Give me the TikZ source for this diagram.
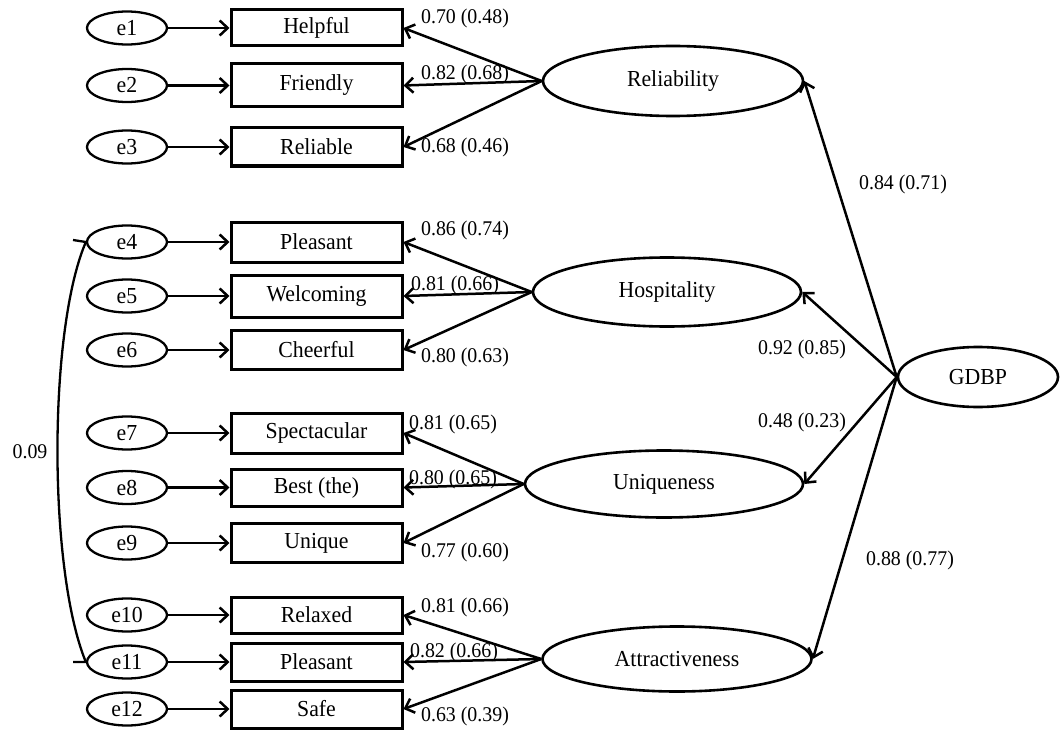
\documentclass[tikz,border=0pt]{standalone}
\usepackage{fontspec}
\setmainfont{Liberation Serif}[FakeStretch=0.95]
\usetikzlibrary{shapes.geometric,arrows.meta}

\newcommand{\nodefont}{\fontsize{23}{25}\selectfont}
\newcommand{\coeffont}{\fontsize{21}{23}\selectfont}

\tikzset{
  errvar/.style={ellipse, draw, line width=2.3bp, minimum width=80bp,
    minimum height=33bp, inner sep=0pt, font=\nodefont},
  indicator/.style={rectangle, draw, line width=3bp, minimum width=171bp,
    minimum height=38bp, inner sep=0pt, font=\nodefont},
  latent/.style={ellipse, draw, line width=2.6bp, inner sep=0pt, font=\nodefont},
  loading/.style={line width=2.5bp, -{Straight Barb[length=8bp,width=15bp]}},
  coef/.style={inner sep=0pt, font=\coeffont},
}

\begin{document}
\begin{tikzpicture}[x=1bp, y=-1bp]
\useasboundingbox (0,0) rectangle (1061,731);

% error terms and indicators
\foreach \i/\y/\txt/\h in {1/28/Helpful/36, 2/85.5/Friendly/43, 3/147/Reliable/38,
    4/242/Pleasant/40, 5/296/Welcoming/42, 6/350/Cheerful/39,
    7/433/Spectacular/40, 8/487.5/Best (the)/37, 9/543/Unique/39,
    10/615/Relaxed/36, 11/662/Pleasant/38, 12/709/Safe/38} {
  \node[errvar] (e\i) at (127,\y) {e\i};
  \node[indicator, minimum height=\h bp] (b\i) at (316.5,\y) {\txt};
  \draw[loading] (e\i.east) -- (b\i.west);
}

% first-order factors
\node[latent, minimum width=260bp, minimum height=70bp] (rel)  at (673,81)  {Reliability};
\node[latent, minimum width=268bp, minimum height=69bp] (hosp) at (667,292) {Hospitality};
\node[latent, minimum width=278bp, minimum height=67bp] (uniq) at (664,484) {Uniqueness};
\node[latent, minimum width=269bp, minimum height=65bp] (attr) at (677,659) {Attractiveness};

% second-order factor
\node[latent, minimum width=160bp, minimum height=60bp] (gdbp) at (978,377) {GDBP};

% factor loadings
\foreach \f/\a/\b/\c in {rel/1/2/3, hosp/4/5/6, uniq/7/8/9, attr/10/11/12} {
  \draw[loading] (\f.west) -- (b\a.east);
  \draw[loading] (\f.west) -- (b\b.east);
  \draw[loading] (\f.west) -- (b\c.east);
}
\foreach \f in {rel, hosp, uniq, attr}
  \draw[loading] (gdbp.west) -- (\f.east);

% standardized loadings (squared multiple correlations)
\node[coef] (l1)  at (465,18.5) {0.70 (0.48)};
\node[coef] (l2)  at (465,74)   {0.82 (0.68)};
\node[coef] (l3)  at (465,147)  {0.68 (0.46)};
\node[coef] (l4)  at (465,230)  {0.86 (0.74)};
\node[coef] (l5)  at (455,285)  {0.81 (0.66)};
\node[coef] (l6)  at (465,357)  {0.80 (0.63)};
\node[coef] (l7)  at (453,424)  {0.81 (0.65)};
\node[coef] (l8)  at (453,479)  {0.80 (0.65)};
\node[coef] (l9)  at (465,552)  {0.77 (0.60)};
\node[coef] (l10) at (465,607)  {0.81 (0.66)};
\node[coef] (l11) at (454,652)  {0.82 (0.66)};
\node[coef] (l12) at (465,716)  {0.63 (0.39)};
\node[coef] (g1)  at (903,184)  {0.84 (0.71)};
\node[coef] (g2)  at (802,349)  {0.92 (0.85)};
\node[coef] (g3)  at (802,422)  {0.48 (0.23)};
\node[coef] (g4)  at (910,560)  {0.88 (0.77)};

% error covariance between e4 and e11
\coordinate (t4)  at (73,240);
\coordinate (t11) at (73,662);
\draw[line width=2.3bp] (t4) -- (e4.west) .. controls (48,330) and (48,570) .. (e11.west) -- (t11);
\node[coef] (cov) at (30,452) {0.09};
\end{tikzpicture}
\end{document}
